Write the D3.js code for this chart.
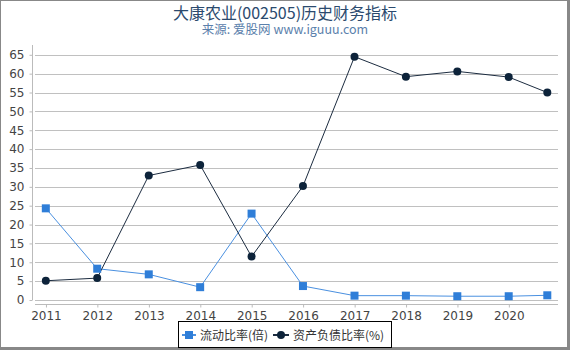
<!DOCTYPE html>
<html>
<head>
<meta charset="utf-8">
<script src="https://cdn.jsdelivr.net/npm/d3@7"></script>
<style>
  body { margin: 0; background: #fff; }
  svg { display: block; font-family: "Noto Sans CJK SC", "DejaVu Sans", sans-serif; }
</style>
</head>
<body>
<svg id="chart" width="570" height="350"></svg>
<script>
// period ends (year-end reports, last one is Q3 2020)
const periods = ["2010-12-31", "2011-12-31", "2012-12-31", "2013-12-31", "2014-12-31",
                 "2015-12-31", "2016-12-31", "2017-12-31", "2018-12-31", "2019-12-31", "2020-09-30"];
const currentRatio = [24.3, 8.3, 6.8, 3.4, 22.9, 3.7, 1.15, 1.15, 1.0, 1.0, 1.25];
const debtRatio    = [5.1, 5.8, 33.0, 35.8, 11.5, 30.2, 64.5, 59.2, 60.6, 59.1, 55.0];
const yTicks = [0, 5, 10, 15, 20, 25, 30, 35, 40, 45, 50, 55, 60, 65];
const xTickYears = [2011, 2012, 2013, 2014, 2015, 2016, 2017, 2018, 2019, 2020];

const parse = d3.timeParse("%Y-%m-%d");
const dates = periods.map(parse);

const svg = d3.select("#chart");
const W = 570, H = 350;

// frame
svg.append("rect").attr("x", 0.5).attr("y", 0.5).attr("width", W - 3).attr("height", H - 3)
  .attr("fill", "#fff").attr("stroke", "#888");
svg.append("rect").attr("x", W - 3).attr("y", 0).attr("width", 3).attr("height", H).attr("fill", "#888");
svg.append("rect").attr("x", 0).attr("y", H - 3).attr("width", W).attr("height", 3).attr("fill", "#888");

svg.append("text").attr("x", 285).attr("y", 18.5).attr("text-anchor", "middle")
  .attr("fill", "#2b4a6e").style("font-size", "16px")
  .text("大康农业(002505)历史财务指标");
svg.append("text").attr("x", 285).attr("y", 34).attr("text-anchor", "middle")
  .attr("fill", "#5a80ab").style("font-size", "12.5px")
  .text("来源: 爱股网 www.iguuu.com");

const x = d3.scaleTime()
  .domain([new Date(2010, 9, 1), new Date(2020, 11, 15)])
  .range([33, 558]);
const y = d3.scaleLinear().domain([0, 67.6]).range([300, 45]);

// grid
svg.append("g").selectAll("line").data(yTicks).join("line")
  .attr("x1", 35).attr("x2", 558)
  .attr("y1", d => Math.round(y(d)) + 0.5).attr("y2", d => Math.round(y(d)) + 0.5)
  .attr("stroke", "#c0c0c0");

// y axis
const yAxis = svg.append("g").attr("transform", "translate(32.5,0)")
  .call(d3.axisLeft(y).tickValues(yTicks).tickSize(3).tickPadding(5));
yAxis.select(".domain").attr("stroke", "#bbb").attr("d", `M0,45V${y(0)}`);
yAxis.selectAll(".tick line").attr("stroke", "#bbb");
yAxis.selectAll("text").attr("fill", "#444").style("font-size", "12px")
  .style("font-family", "'DejaVu Sans', sans-serif");

// x axis
const xAxis = svg.append("g").attr("transform", "translate(0,304.5)")
  .call(d3.axisBottom(x).tickValues(xTickYears.map(yr => new Date(yr, 0, 1)))
    .tickFormat(d3.timeFormat("%Y")).tickSize(3).tickPadding(4));
xAxis.select(".domain").attr("stroke", "#bbb").attr("d", "M35,0H558");
xAxis.selectAll(".tick line").attr("stroke", "#bbb");
xAxis.selectAll("text").attr("fill", "#444").style("font-size", "12px")
  .style("font-family", "'DejaVu Sans', sans-serif");

const line = d3.line().x((d, i) => x(dates[i])).y(d => y(d));

const blue = "#2f7ed8", dark = "#0d233a";

svg.append("path").datum(currentRatio).attr("d", line)
  .attr("fill", "none").attr("stroke", "#4a90e0").attr("stroke-width", 1);
svg.append("path").datum(debtRatio).attr("d", line)
  .attr("fill", "none").attr("stroke", "#1c2c40").attr("stroke-width", 1);

svg.append("g").selectAll("rect").data(currentRatio).join("rect")
  .attr("x", (d, i) => x(dates[i]) - 4).attr("y", d => y(d) - 4)
  .attr("width", 8).attr("height", 8).attr("fill", blue);
svg.append("g").selectAll("circle").data(debtRatio).join("circle")
  .attr("cx", (d, i) => x(dates[i])).attr("cy", d => y(d))
  .attr("r", 4).attr("fill", dark);

// legend
const lg = svg.append("g");
lg.append("rect").attr("x", 178.5).attr("y", 321.5).attr("width", 213).attr("height", 26)
  .attr("fill", "#fff").attr("stroke", "#000");
lg.append("line").attr("x1", 182).attr("x2", 196).attr("y1", 335).attr("y2", 335)
  .attr("stroke", "#4a90e0").attr("stroke-width", 2);
lg.append("rect").attr("x", 185).attr("y", 331).attr("width", 8).attr("height", 8).attr("fill", blue);
lg.append("text").attr("x", 200).attr("y", 340).attr("fill", "#333").style("font-size", "12px")
  .text("流动比率(倍)");
lg.append("line").attr("x1", 273).attr("x2", 289).attr("y1", 335).attr("y2", 335)
  .attr("stroke", "#1c2c40").attr("stroke-width", 2);
lg.append("circle").attr("cx", 281).attr("cy", 335).attr("r", 4).attr("fill", dark);
lg.append("text").attr("x", 293).attr("y", 340).attr("fill", "#333").style("font-size", "12px")
  .text("资产负债比率(%)");
</script>
</body>
</html>
